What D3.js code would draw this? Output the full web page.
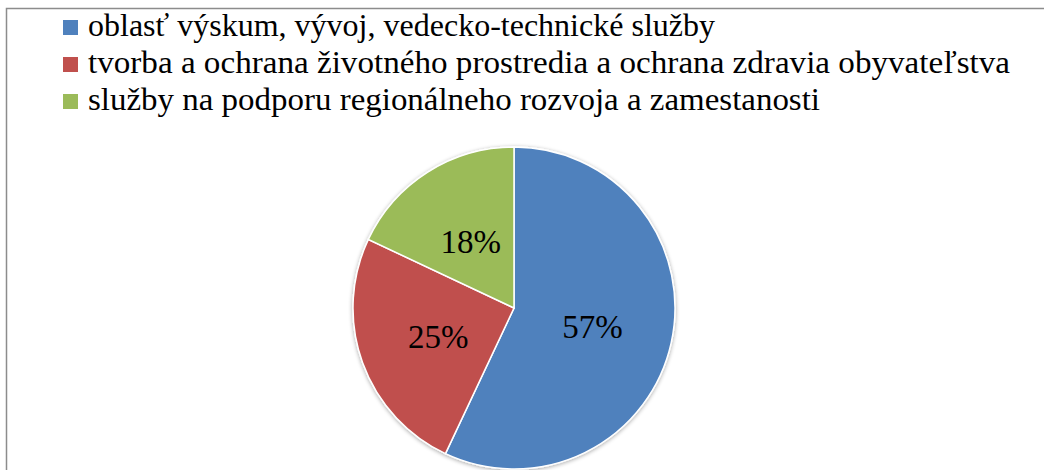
<!DOCTYPE html>
<html lang="sk">
<head>
  <meta charset="UTF-8">
  <title>Pie chart</title>
  <style>
    body { margin: 0; background: #fff; }
    svg { display: block; }
    .legend text, .label { font-family: 'Liberation Serif', serif; fill: #000; }
  </style>
</head>
<body>
  <svg id="chart" width="1044" height="470"></svg>
  <script src="https://d3js.org/d3.v7.min.js"></script>
  <script>
    const categories = [
      'oblasť výskum, vývoj, vedecko-technické služby',
      'tvorba a ochrana životného prostredia a ochrana zdravia obyvateľstva',
      'služby na podporu regionálneho rozvoja a zamestanosti'
    ]
    const values = [57, 25, 18]
    const colors = ['#4F81BD', '#C0504D', '#9BBB59']
    // measured text widths so the serif stand-in spans like the original font
    const legendWidths = [627, 922, 732]

    const svg = d3.select('#chart')
    const width = +svg.attr('width')
    const height = +svg.attr('height')

    // frame (only left and top edges are visible in the crop)
    svg.append('path')
      .attr('d', `M6.5,${height} L6.5,8.5 L${width},8.5`)
      .attr('fill', 'none')
      .attr('stroke', '#8c8c8c')
      .attr('stroke-width', 1.5)

    const defs = svg.append('defs')
    const shadow = defs.append('filter').attr('id', 'shadow')
      .attr('x', '-10%').attr('y', '-10%').attr('width', '120%').attr('height', '120%')
    shadow.append('feGaussianBlur').attr('in', 'SourceAlpha').attr('stdDeviation', 2)
    shadow.append('feOffset').attr('dx', 0).attr('dy', 1).attr('result', 'blur')
    shadow.append('feComponentTransfer').append('feFuncA').attr('type', 'linear').attr('slope', 0.35)
    const merge = shadow.append('feMerge')
    merge.append('feMergeNode')
    merge.append('feMergeNode').attr('in', 'SourceGraphic')

    // legend
    const legend = svg.append('g').attr('class', 'legend')
    const rowY = d3.scalePoint().domain(d3.range(categories.length)).range([36, 110])
    const item = legend.selectAll('g')
      .data(categories)
      .join('g')
      .attr('transform', (d, i) => `translate(63, ${rowY(i)})`)
    item.append('rect')
      .attr('x', 0).attr('y', -16)
      .attr('width', 15).attr('height', 15)
      .attr('fill', (d, i) => colors[i])
    item.append('text')
      .attr('x', 25).attr('y', 0)
      .attr('font-size', 31)
      .attr('textLength', (d, i) => legendWidths[i])
      .attr('lengthAdjust', 'spacingAndGlyphs')
      .text(d => d)

    // pie
    const cx = 514, cy = 308, radius = 161
    const pie = d3.pie().sort(null).value(d => d)
    const arc = d3.arc().innerRadius(0).outerRadius(radius)
    const g = svg.append('g').attr('transform', `translate(${cx}, ${cy})`)

    g.append('g').attr('filter', 'url(#shadow)')
      .selectAll('path')
      .data(pie(values))
      .join('path')
      .attr('d', arc)
      .attr('fill', (d, i) => colors[i])
      .attr('stroke', '#fff')
      .attr('stroke-width', 1.5)

    const labelArc = d3.arc().innerRadius(radius * 0.5).outerRadius(radius * 0.5)
    g.selectAll('.label')
      .data(pie(values))
      .join('text')
      .attr('class', 'label')
      .attr('transform', d => `translate(${labelArc.centroid(d)})`)
      .attr('text-anchor', 'middle')
      .attr('dy', '0.38em')
      .attr('font-size', 33)
      .text(d => d.data + '%')
  </script>
</body>
</html>
